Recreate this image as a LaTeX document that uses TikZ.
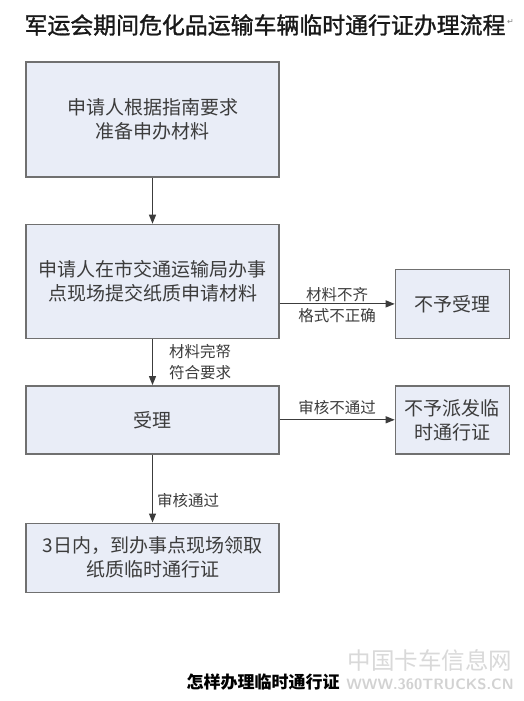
\documentclass[tikz,border=0pt]{standalone}
\usepackage{fontspec}
\newfontfamily\cjk{Noto Sans CJK SC}
\newfontfamily\cjkheavy[FakeBold=1.3]{Noto Sans CJK SC}
\newfontfamily\symb{DejaVu Sans}
\usetikzlibrary{positioning,arrows.meta}

\definecolor{boxfill}{HTML}{E9EDF7}
\definecolor{boxline}{HTML}{707070}
\definecolor{ink}{HTML}{3C3C3C}

\begin{document}
\begin{tikzpicture}[
x=1pt,y=-1pt,
node distance=46pt,
every node/.style={font=\cjk, text=ink},
stepbox/.style={
draw=boxline,
line width=1.4pt,
fill=boxfill,
minimum width=253pt,
align=center,
font=\cjk\fontsize{19}{24}\selectfont
},
sidebox/.style={stepbox, minimum width=114pt, minimum height=69pt},
note/.style={font=\cjk\fontsize{15.5}{21}\selectfont, align=center, inner sep=2pt},
flow/.style={-{Triangle[length=9pt,width=7pt]}, draw=ink, line width=1.1pt},
>=Latex
]

\useasboundingbox (0,0) rectangle (523,701);
\fill[white] (0,0) rectangle (523,701);

% title
\node[text=black!90, font=\cjkheavy] (title) at (265,25) {\fontsize{22.9}{24}\selectfont 军运会期间危化品运输车辆临时通行证办理流程};
\node[text=gray, font=\symb\fontsize{8}{8}\selectfont, anchor=west, inner sep=0pt] (mark) at ([yshift=3pt,xshift=-2pt]title.east) {↵};

% main column
\node[stepbox, minimum height=115pt] (prepare) at (152.5,119.5) {申请人根据指南要求\\准备申办材料};

\node[stepbox, minimum height=114pt] (submit) [below=of prepare] {申请人在市交通运输局办事\\点现场提交纸质申请材料};

\node[stepbox, minimum height=68pt] (accept) [below=of submit] {受理};

\node[stepbox, minimum height=69pt] (collect) [below=68pt of accept] {3日内，到办事点现场领取\\纸质临时通行证};

% side column
\node[sidebox, anchor=south west] (refuse) at ([xshift=115pt]submit.south east) {不予受理};

\node[sidebox, minimum height=68pt] (nopermit) [right=115pt of accept] {不予派发临\\时通行证};

% connectors
\draw[flow] (prepare) -- (submit);
\draw[flow] (submit) -- node[note, anchor=west, xshift=14pt]{材料完帑\\符合要求} (accept);
\draw[flow] (accept) -- node[note, anchor=west, xshift=2pt, yshift=-12pt]{审核通过} (collect);
\draw[flow] (refuse.west -| submit.east) -- node[note, yshift=-1pt]{材料不齐\\格式不正确} (refuse.west);
\draw[flow] (accept) -- node[note, anchor=south, yshift=2pt]{审核不通过} (nopermit);

% caption and watermark
\node[text=black, font=\cjk\fontsize{17}{20}\selectfont\bfseries] (caption) at (263,682) {怎样办理临时通行证};
\node[text=gray!30, font=\cjk\fontsize{23.5}{24}\selectfont] (wmname) at (430,660) {中国卡车信息网};
\node[text=gray!35, font=\sffamily\bfseries\fontsize{15}{15}\selectfont] (wmurl) at (430,684) {WWW.360TRUCKS.CN};

\end{tikzpicture}
\end{document}
